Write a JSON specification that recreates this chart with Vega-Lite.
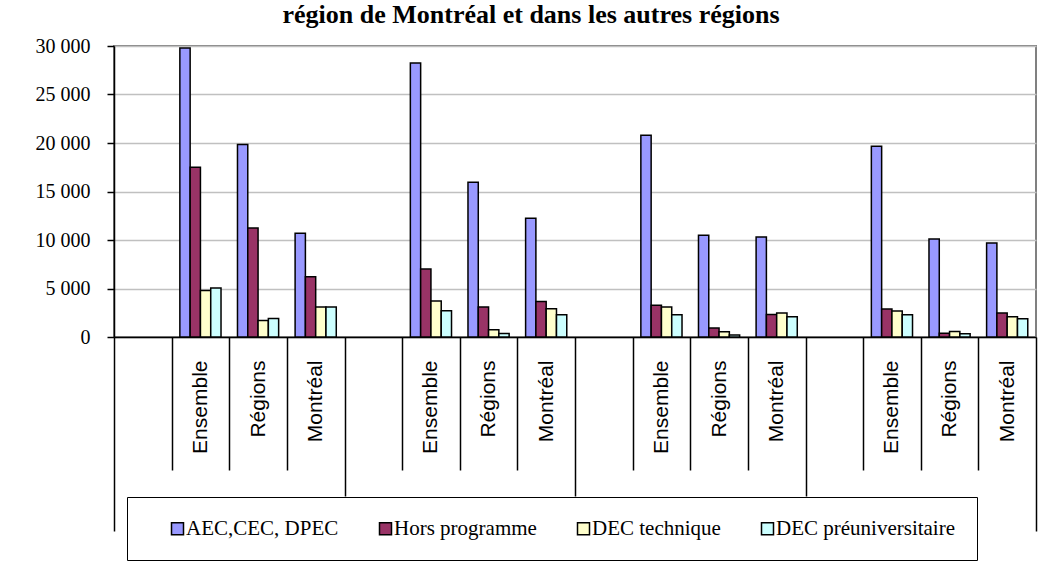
{
  "$schema": "https://vega.github.io/schema/vega-lite/v6.json",
  "width": 922,
  "height": 291,
  "autosize": "none",
  "padding": {"left": 114, "top": 46, "right": 13, "bottom": 232},
  "background": "white",
  "title": {
    "text": "région de Montréal et dans les autres régions",
    "font": "Liberation Serif",
    "fontSize": 26,
    "fontWeight": "bold",
    "color": "black",
    "anchor": "middle",
    "baseline": "alphabetic",
    "offset": 20,
    "dy": 33,
    "dx": -44
  },
  "data": {
    "values": [
      {"slot": "1-E", "serie": "AEC,CEC, DPEC", "value": 29800},
      {"slot": "1-E", "serie": "Hors programme", "value": 17500},
      {"slot": "1-E", "serie": "DEC technique", "value": 4800},
      {"slot": "1-E", "serie": "DEC préuniversitaire", "value": 5050},
      {"slot": "1-R", "serie": "AEC,CEC, DPEC", "value": 19850},
      {"slot": "1-R", "serie": "Hors programme", "value": 11250},
      {"slot": "1-R", "serie": "DEC technique", "value": 1700},
      {"slot": "1-R", "serie": "DEC préuniversitaire", "value": 1900},
      {"slot": "1-M", "serie": "AEC,CEC, DPEC", "value": 10700},
      {"slot": "1-M", "serie": "Hors programme", "value": 6200},
      {"slot": "1-M", "serie": "DEC technique", "value": 3100},
      {"slot": "1-M", "serie": "DEC préuniversitaire", "value": 3100},
      {"slot": "2-E", "serie": "AEC,CEC, DPEC", "value": 28250},
      {"slot": "2-E", "serie": "Hors programme", "value": 7000},
      {"slot": "2-E", "serie": "DEC technique", "value": 3700},
      {"slot": "2-E", "serie": "DEC préuniversitaire", "value": 2700},
      {"slot": "2-R", "serie": "AEC,CEC, DPEC", "value": 15950},
      {"slot": "2-R", "serie": "Hors programme", "value": 3100},
      {"slot": "2-R", "serie": "DEC technique", "value": 750},
      {"slot": "2-R", "serie": "DEC préuniversitaire", "value": 360},
      {"slot": "2-M", "serie": "AEC,CEC, DPEC", "value": 12250},
      {"slot": "2-M", "serie": "Hors programme", "value": 3650},
      {"slot": "2-M", "serie": "DEC technique", "value": 2900},
      {"slot": "2-M", "serie": "DEC préuniversitaire", "value": 2300},
      {"slot": "3-E", "serie": "AEC,CEC, DPEC", "value": 20800},
      {"slot": "3-E", "serie": "Hors programme", "value": 3280},
      {"slot": "3-E", "serie": "DEC technique", "value": 3100},
      {"slot": "3-E", "serie": "DEC préuniversitaire", "value": 2300},
      {"slot": "3-R", "serie": "AEC,CEC, DPEC", "value": 10480},
      {"slot": "3-R", "serie": "Hors programme", "value": 930},
      {"slot": "3-R", "serie": "DEC technique", "value": 550},
      {"slot": "3-R", "serie": "DEC préuniversitaire", "value": 200},
      {"slot": "3-M", "serie": "AEC,CEC, DPEC", "value": 10300},
      {"slot": "3-M", "serie": "Hors programme", "value": 2320},
      {"slot": "3-M", "serie": "DEC technique", "value": 2480},
      {"slot": "3-M", "serie": "DEC préuniversitaire", "value": 2080},
      {"slot": "4-E", "serie": "AEC,CEC, DPEC", "value": 19670},
      {"slot": "4-E", "serie": "Hors programme", "value": 2880},
      {"slot": "4-E", "serie": "DEC technique", "value": 2680},
      {"slot": "4-E", "serie": "DEC préuniversitaire", "value": 2300},
      {"slot": "4-R", "serie": "AEC,CEC, DPEC", "value": 10100},
      {"slot": "4-R", "serie": "Hors programme", "value": 380},
      {"slot": "4-R", "serie": "DEC technique", "value": 560},
      {"slot": "4-R", "serie": "DEC préuniversitaire", "value": 340},
      {"slot": "4-M", "serie": "AEC,CEC, DPEC", "value": 9680},
      {"slot": "4-M", "serie": "Hors programme", "value": 2470},
      {"slot": "4-M", "serie": "DEC technique", "value": 2090},
      {"slot": "4-M", "serie": "DEC préuniversitaire", "value": 1890}
    ]
  },
  "mark": {"type": "bar", "stroke": "black", "strokeWidth": 1.5},
  "encoding": {
    "x": {
      "field": "slot",
      "type": "nominal",
      "sort": null,
      "scale": {
        "domain": ["1-0", "1-E", "1-R", "1-M", "2-0", "2-E", "2-R", "2-M", "3-0", "3-E", "3-R", "3-M", "4-0", "4-E", "4-R", "4-M"],
        "paddingInner": 0,
        "paddingOuter": 0
      },
      "axis": {
        "title": null,
        "grid": false,
        "tickBand": "extent",
        "domainColor": "black",
        "domainWidth": 1.5,
        "tickColor": "black",
        "tickWidth": 1.5,
        "tickSize": {
          "condition": [
            {"test": "!datum.value || datum.extra || datum.value == '4-M'", "value": 194},
            {"test": "substring(datum.value, 2, 3) == 'M'", "value": 159}
          ],
          "value": 133
        },
        "labelPadding": {
          "condition": [
            {"test": "!datum.value || datum.extra || datum.value == '4-M'", "value": -171},
            {"test": "substring(datum.value, 2, 3) == 'M'", "value": -136}
          ],
          "value": -110
        },
        "labelAngle": 270,
        "labelAlign": "right",
        "labelBaseline": "middle",
        "labelFont": "Liberation Sans",
        "labelFontSize": 21,
        "labelColor": "black",
        "labelExpr": "substring(datum.value, 2, 3) == 'E' ? 'Ensemble' : substring(datum.value, 2, 3) == 'R' ? 'Régions' : substring(datum.value, 2, 3) == 'M' ? 'Montréal' : ''"
      }
    },
    "xOffset": {
      "field": "serie",
      "type": "nominal",
      "sort": null,
      "scale": {
        "domain": ["AEC,CEC, DPEC", "Hors programme", "DEC technique", "DEC préuniversitaire"],
        "paddingInner": 0,
        "paddingOuter": 0.8
      }
    },
    "y": {
      "field": "value",
      "type": "quantitative",
      "scale": {"domain": [0, 30000], "nice": false},
      "axis": {
        "title": null,
        "values": [0, 5000, 10000, 15000, 20000, 25000, 30000],
        "labelExpr": "replace(format(datum.value, ','), ',', ' ')",
        "labelFont": "Liberation Serif",
        "labelFontSize": 20,
        "labelColor": "black",
        "labelPadding": 17,
        "tickColor": "black",
        "tickSize": 7,
        "tickWidth": 1.5,
        "domainColor": "black",
        "domainWidth": 1.5,
        "grid": true,
        "gridColor": "#c0c0c0",
        "gridWidth": 1.5
      }
    },
    "color": {
      "field": "serie",
      "type": "nominal",
      "sort": null,
      "scale": {
        "domain": ["AEC,CEC, DPEC", "Hors programme", "DEC technique", "DEC préuniversitaire"],
        "range": ["#9999FF", "#993366", "#FFFFCC", "#CCFFFF"]
      },
      "legend": {
        "orient": "none",
        "legendX": 13,
        "legendY": 451,
        "direction": "horizontal",
        "columns": 4,
        "title": "\u00a0",
        "titleOrient": "left",
        "titleFontSize": 1,
        "titlePadding": 19,
        "padding": 21,
        "strokeColor": "black",
        "labelFont": "Liberation Serif",
        "labelFontSize": 21,
        "labelColor": "black",
        "labelOffset": -2,
        "labelLimit": 0,
        "labelBaseline": "middle",
        "columnPadding": 36,
        "symbolType": "square",
        "symbolSize": 144,
        "symbolStrokeColor": "black",
        "symbolStrokeWidth": 1.5
      }
    }
  },
  "config": {
    "view": {"stroke": "#808080", "strokeWidth": 2}
  }
}
